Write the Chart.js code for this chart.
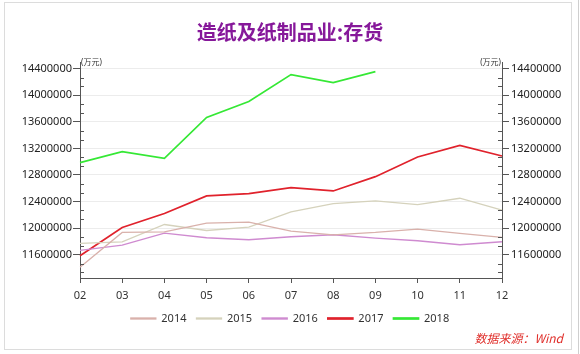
<!DOCTYPE html>
<html>
<head>
<meta charset="utf-8">
<script src="https://cdn.jsdelivr.net/npm/chart.js@4.4.1/dist/chart.umd.min.js"></script>
<style>
  html, body { margin: 0; padding: 0; background: #ffffff; }
  #wrap { width: 580px; height: 354px; position: relative; }
</style>
</head>
<body>
<div id="wrap"><canvas id="c" width="580" height="354"></canvas></div>
<script>
const months = ['02', '03', '04', '05', '06', '07', '08', '09', '10', '11', '12'];
const s2014 = [11410000, 11935000, 11945000, 12075000, 12090000, 11955000, 11900000, 11935000, 11985000, 11920000, 11860000];
const s2015 = [11770000, 11795000, 12055000, 11965000, 12015000, 12245000, 12370000, 12410000, 12355000, 12450000, 12270000];
const s2016 = [11665000, 11745000, 11925000, 11855000, 11825000, 11870000, 11900000, 11850000, 11810000, 11750000, 11795000];
const s2017 = [11585000, 12010000, 12220000, 12485000, 12520000, 12610000, 12560000, 12775000, 13070000, 13245000, 13085000];
const s2018 = [12985000, 13150000, 13050000, 13665000, 13905000, 14310000, 14190000, 14355000, null, null, null];
const yTicks = [11600000, 12000000, 12400000, 12800000, 13200000, 13600000, 14000000, 14400000];
const yMin = 11250000;
const yMax = 14500000;
const minorStep = 400000 / 3;
const titleText = '造纸及纸制品业:存货';
const unitText = '(万元)';
const sourceText = '数据来源：Wind';

const FONT = '"Noto Sans", "Noto Sans CJK SC", sans-serif';

const framePlugin = {
  id: 'frame',
  beforeDraw(chart) {
    const ctx = chart.ctx;
    ctx.save();
    ctx.fillStyle = '#ffffff';
    ctx.fillRect(0, 0, chart.width, chart.height);
    ctx.strokeStyle = '#dcdcdc';
    ctx.lineWidth = 1;
    ctx.strokeRect(4.5, 2.5, 567, 347);
    ctx.strokeStyle = '#cfcfcf';
    ctx.beginPath();
    ctx.moveTo(578.5, 0); ctx.lineTo(578.5, 354);
    ctx.stroke();
    ctx.restore();
  },
  afterDraw(chart) {
    const ctx = chart.ctx;
    const a = chart.chartArea;
    ctx.save();
    // minor ticks
    ctx.strokeStyle = '#555555';
    ctx.lineWidth = 1;
    ['y', 'y2'].forEach(id => {
      const sc = chart.scales[id];
      const dir = id === 'y' ? 1 : -1;
      const x0 = id === 'y' ? sc.right : sc.left;
      ctx.beginPath();
      for (let v = yTicks[0] - minorStep; v >= yMin; v -= minorStep) {
        const py = Math.round(sc.getPixelForValue(v)) + 0.5;
        ctx.moveTo(x0, py); ctx.lineTo(x0 + dir * 4, py);
      }
      for (let v = yTicks[0] + minorStep; v <= yMax; v += minorStep) {
        const k = (v - yTicks[0]) / 400000;
        if (Math.abs(k - Math.round(k)) < 1e-6) continue;
        const py = Math.round(sc.getPixelForValue(v)) + 0.5;
        ctx.moveTo(x0, py); ctx.lineTo(x0 + dir * 4, py);
      }
      ctx.stroke();
    });
    // unit labels
    ctx.fillStyle = '#333333';
    ctx.font = '8px ' + FONT;
    ctx.textBaseline = 'middle';
    ctx.textAlign = 'left';
    ctx.fillText(unitText, a.left + 1, a.top + 1);
    ctx.textAlign = 'right';
    ctx.fillText(unitText, a.right - 1, a.top + 1);
    // source
    ctx.fillStyle = '#e0302c';
    ctx.font = 'italic 12px "Noto Sans CJK SC", sans-serif';
    ctx.textAlign = 'right';
    ctx.fillText(sourceText, 563, 338);
    ctx.restore();
  }
};

const mk = (label, data, color, w) => ({
  label, data,
  borderColor: color,
  backgroundColor: color,
  borderWidth: w,
  pointRadius: 0,
  pointHoverRadius: 0,
  tension: 0,
  spanGaps: false,
  yAxisID: 'y'
});

new Chart(document.getElementById('c'), {
  type: 'line',
  data: {
    labels: months,
    datasets: [
      mk('2014', s2014, '#d9b1ab', 1.3),
      mk('2015', s2015, '#d5d2bc', 1.3),
      mk('2016', s2016, '#cf8bd0', 1.4),
      mk('2017', s2017, '#e0222c', 1.7),
      mk('2018', s2018, '#35e835', 1.7)
    ]
  },
  options: {
    responsive: false,
    animation: false,
    devicePixelRatio: 1,
    layout: { padding: { left: 0, right: 0, top: 0, bottom: 20 } },
    plugins: {
      title: {
        display: true,
        text: titleText,
        color: '#86189a',
        font: { family: '"Noto Sans CJK SC", sans-serif', size: 20, weight: 'bold' },
        padding: { top: 20, bottom: 18 }
      },
      legend: {
        display: true,
        position: 'bottom',
        labels: {
          boxWidth: 25,
          boxHeight: 1,
          padding: 10,
          color: '#333333',
          font: { family: FONT, size: 11 }
        }
      },
      tooltip: { enabled: false }
    },
    scales: {
      x: {
        offset: false,
        grid: { display: true, drawOnChartArea: false, drawTicks: true, tickLength: 5, tickColor: '#555555' },
        border: { display: true, color: '#555555', width: 1 },
        ticks: { color: '#333333', font: { family: FONT, size: 11 }, padding: 6, maxRotation: 0, autoSkip: false },
        afterFit(s) { s.height = 25; }
      },
      y: {
        position: 'left',
        min: yMin, max: yMax,
        afterBuildTicks(s) { s.ticks = yTicks.map(v => ({ value: v })); },
        grid: { color: '#ececec', drawTicks: true, tickLength: 7, tickColor: '#555555' },
        border: { display: true, color: '#555555', width: 1 },
        ticks: { color: '#222222', font: { family: FONT, size: 11 }, padding: 1, callback: v => String(v) },
        afterFit(s) { s.width = 80; }
      },
      y2: {
        position: 'right',
        min: yMin, max: yMax,
        afterBuildTicks(s) { s.ticks = yTicks.map(v => ({ value: v })); },
        grid: { drawOnChartArea: false, drawTicks: true, tickLength: 7, tickColor: '#555555' },
        border: { display: true, color: '#555555', width: 1 },
        ticks: { color: '#222222', font: { family: FONT, size: 11 }, padding: 2, callback: v => String(v) },
        afterFit(s) { s.width = 78; }
      }
    }
  },
  plugins: [framePlugin]
});
</script>
</body>
</html>
